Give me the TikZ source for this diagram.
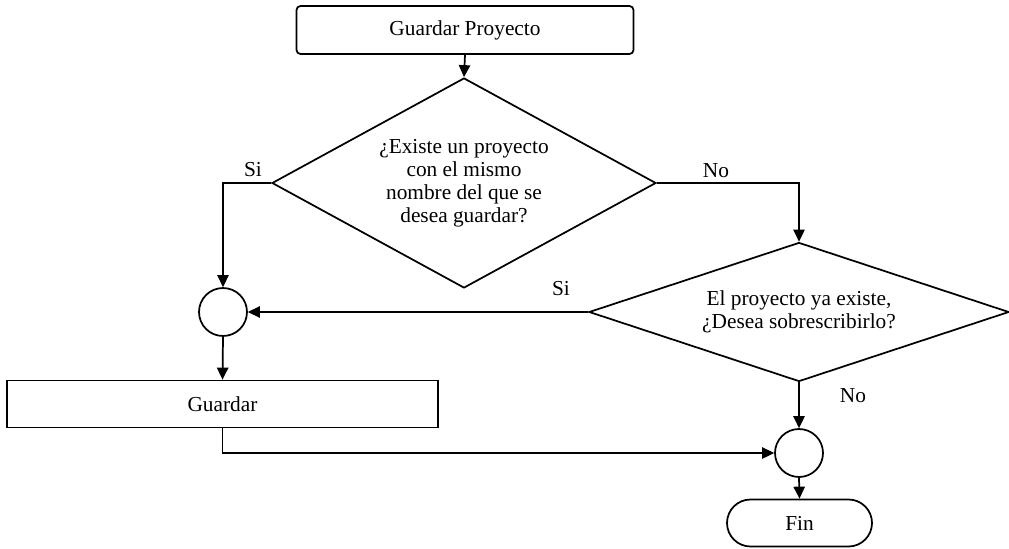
\documentclass[tikz,border=0pt]{standalone}
\usepackage{fontspec}
\setmainfont{Liberation Serif}
\usetikzlibrary{shapes.geometric,shapes.misc,arrows.meta}
\begin{document}
\begin{tikzpicture}[x=0.75pt,y=-0.75pt,
  font=\fontsize{16}{17.25}\selectfont,
  line width=1.3pt,
  procbox/.style={draw,rectangle,inner sep=0pt,align=center},
  decision/.style={draw,diamond,inner sep=0pt,align=center},
  joint/.style={draw,circle,inner sep=0pt,minimum size=36pt},
  terminal/.style={draw,rounded rectangle,inner sep=0pt,align=center},
  arr/.style={-{Triangle[length=9pt,width=8.5pt]}},
  lbl/.style={inner sep=0pt}]
\useasboundingbox (0,0) rectangle (1009,549);

% boxes and decisions
\node[procbox,rounded corners=3pt,minimum width=252.75pt,minimum height=36pt] (start) at (465,30) {Guardar Proyecto};
\node[decision,aspect=1.83,minimum width=288pt,minimum height=157.5pt] (d1) at (464,183)
  {¿Existe un proyecto\\con el mismo\\nombre del que se\\desea guardar?};
\node[decision,aspect=3,minimum width=315pt,minimum height=104.25pt] (d2) at (799,312)
  {El proyecto ya existe,\\¿Desea sobrescribirlo?};
\node[joint] (c1) at (223,312) {};
\node[procbox,minimum width=323.25pt,minimum height=35.25pt] (save) at (222.5,404) {Guardar};
\node[joint] (c2) at (799,453) {};
\node[terminal,minimum width=108.75pt,minimum height=35.25pt] (fin) at (799.5,523) {Fin};

% connectors
\draw[arr] (start.south) -- (d1.north);
\draw[arr] (d1.west) -| (c1.north);
\draw[arr] (d1.east) -| (d2.north);
\draw[arr] (d2.west) -- (c1.east);
\draw[arr] (c1.south) -- (save.north);
\draw[arr] (save.south) |- (c2.west);
\draw[arr] (d2.south) -- (c2.north);
\draw[arr] (c2.south) -- (fin.north);

% branch labels
\node[lbl] (s1) at (253,170) {Si};
\node[lbl] (n1) at (716,171) {No};
\node[lbl] (s2) at (561,289) {Si};
\node[lbl] (n2) at (853,396) {No};
\end{tikzpicture}
\end{document}
